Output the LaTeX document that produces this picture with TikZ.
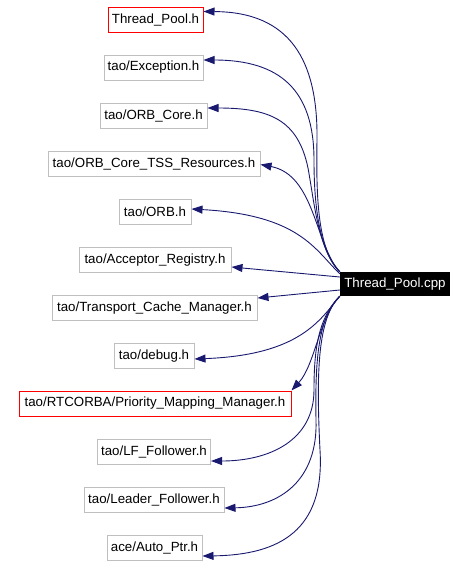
\documentclass[tikz,border=0pt]{standalone}
\usepackage{fontspec}
\setmainfont{Liberation Sans}
\usetikzlibrary{arrows.meta,calc}
\definecolor{edgeblue}{HTML}{191970}
\definecolor{boxgray}{HTML}{BFBFBF}
\begin{document}
\begin{tikzpicture}[x=1pt,y=-1pt,
  filebox/.style={draw=boxgray,line width=1pt,minimum height=25pt,inner sep=0pt,
    font=\fontsize{13.3}{15}\selectfont,text=black},
  redbox/.style={filebox,draw=red},
  srcbox/.style={fill=black,text=white,minimum width=110pt,minimum height=24pt,inner sep=0pt,
    font=\fontsize{13.3}{15}\selectfont},
  dep/.style={draw=edgeblue,line width=0.9pt,-{Triangle[length=11pt,width=8pt]}}]
\useasboundingbox (0,0) rectangle (467,566);

\node[redbox,minimum width=95pt]  (tph)  at (155.5,19.5)  {Thread\_Pool.h};
\node[filebox,minimum width=99pt] (exc)  at (153.5,67.5)  {tao/Exception.h};
\node[filebox,minimum width=107pt](core) at (153.5,115.5) {tao/ORB\_Core.h};
\node[filebox,minimum width=212pt](tss)  at (154,163.5)   {tao/ORB\_Core\_TSS\_Resources.h};
\node[filebox,minimum width=72pt] (orb)  at (155,211.5)   {tao/ORB.h};
\node[filebox,minimum width=152pt](acc)  at (155,260)     {tao/Acceptor\_Registry.h};
\node[filebox,minimum width=205pt](tcm)  at (154.5,308)   {tao/Transport\_Cache\_Manager.h};
\node[filebox,minimum width=80pt] (dbg)  at (154,356)     {tao/debug.h};
\node[redbox,minimum width=272pt] (rtc)  at (155,403.5)   {tao/RTCORBA/Priority\_Mapping\_Manager.h};
\node[filebox,minimum width=113pt](lff)  at (154,451.5)   {tao/LF\_Follower.h};
\node[filebox,minimum width=140pt](ldf)  at (154,499.5)   {tao/Leader\_Follower.h};
\node[filebox,minimum width=95pt] (aut)  at (154.5,547.5) {ace/Auto\_Ptr.h};
\node[srcbox] (cpp) at (395,284) {Thread\_Pool.cpp};

% upper group
\draw[dep] (cpp.north west) .. controls (318,250) and (316,200) .. (317,140)
  .. controls (318,60) and (290,12) .. ($(tph.east)+(0,-8)$);
\draw[dep] (cpp.north west) .. controls (318,250) and (314,200) .. (314,160)
  .. controls (314,90) and (280,60) .. ($(exc.east)+(0,-7.5)$);
\draw[dep] (cpp.north west) .. controls (318,250) and (314,200) .. (308,168)
  .. controls (298,120) and (270,108) .. ($(core.east)+(0,-7.5)$);
\draw[dep] (cpp.north west) .. controls (315,245) and (315,175) .. ($(tss.east)+(0,1)$);
\draw[dep] ($(cpp.north west)+(0,2)$) .. controls (315,250) and (300,215) .. ($(orb.east)+(0,-2.5)$);
\draw[dep] ($(cpp.west)+(0,-7)$) -- ($(acc.east)+(0,7)$);
\draw[dep] ($(cpp.west)+(0,6)$) -- ($(tcm.east)+(0,-10)$);

% lower group
\draw[dep] (cpp.south west) .. controls (320,320) and (300,355) .. ($(dbg.east)+(0,3)$);
\draw[dep] (cpp.south west) .. controls (320,315) and (315,365) .. (rtc.north east);
\draw[dep] (cpp.south west) .. controls (318,318) and (314,350) .. (314,390)
  .. controls (314,440) and (270,461) .. ($(lff.east)+(0,9.5)$);
\draw[dep] (cpp.south west) .. controls (318,318) and (315,360) .. (316,420)
  .. controls (318,480) and (280,507) .. ($(ldf.east)+(0,8.5)$);
\draw[dep] (cpp.south west) .. controls (318,318) and (316,370) .. (320,450)
  .. controls (325,530) and (280,555) .. ($(aut.east)+(0,8.5)$);
\end{tikzpicture}
\end{document}
